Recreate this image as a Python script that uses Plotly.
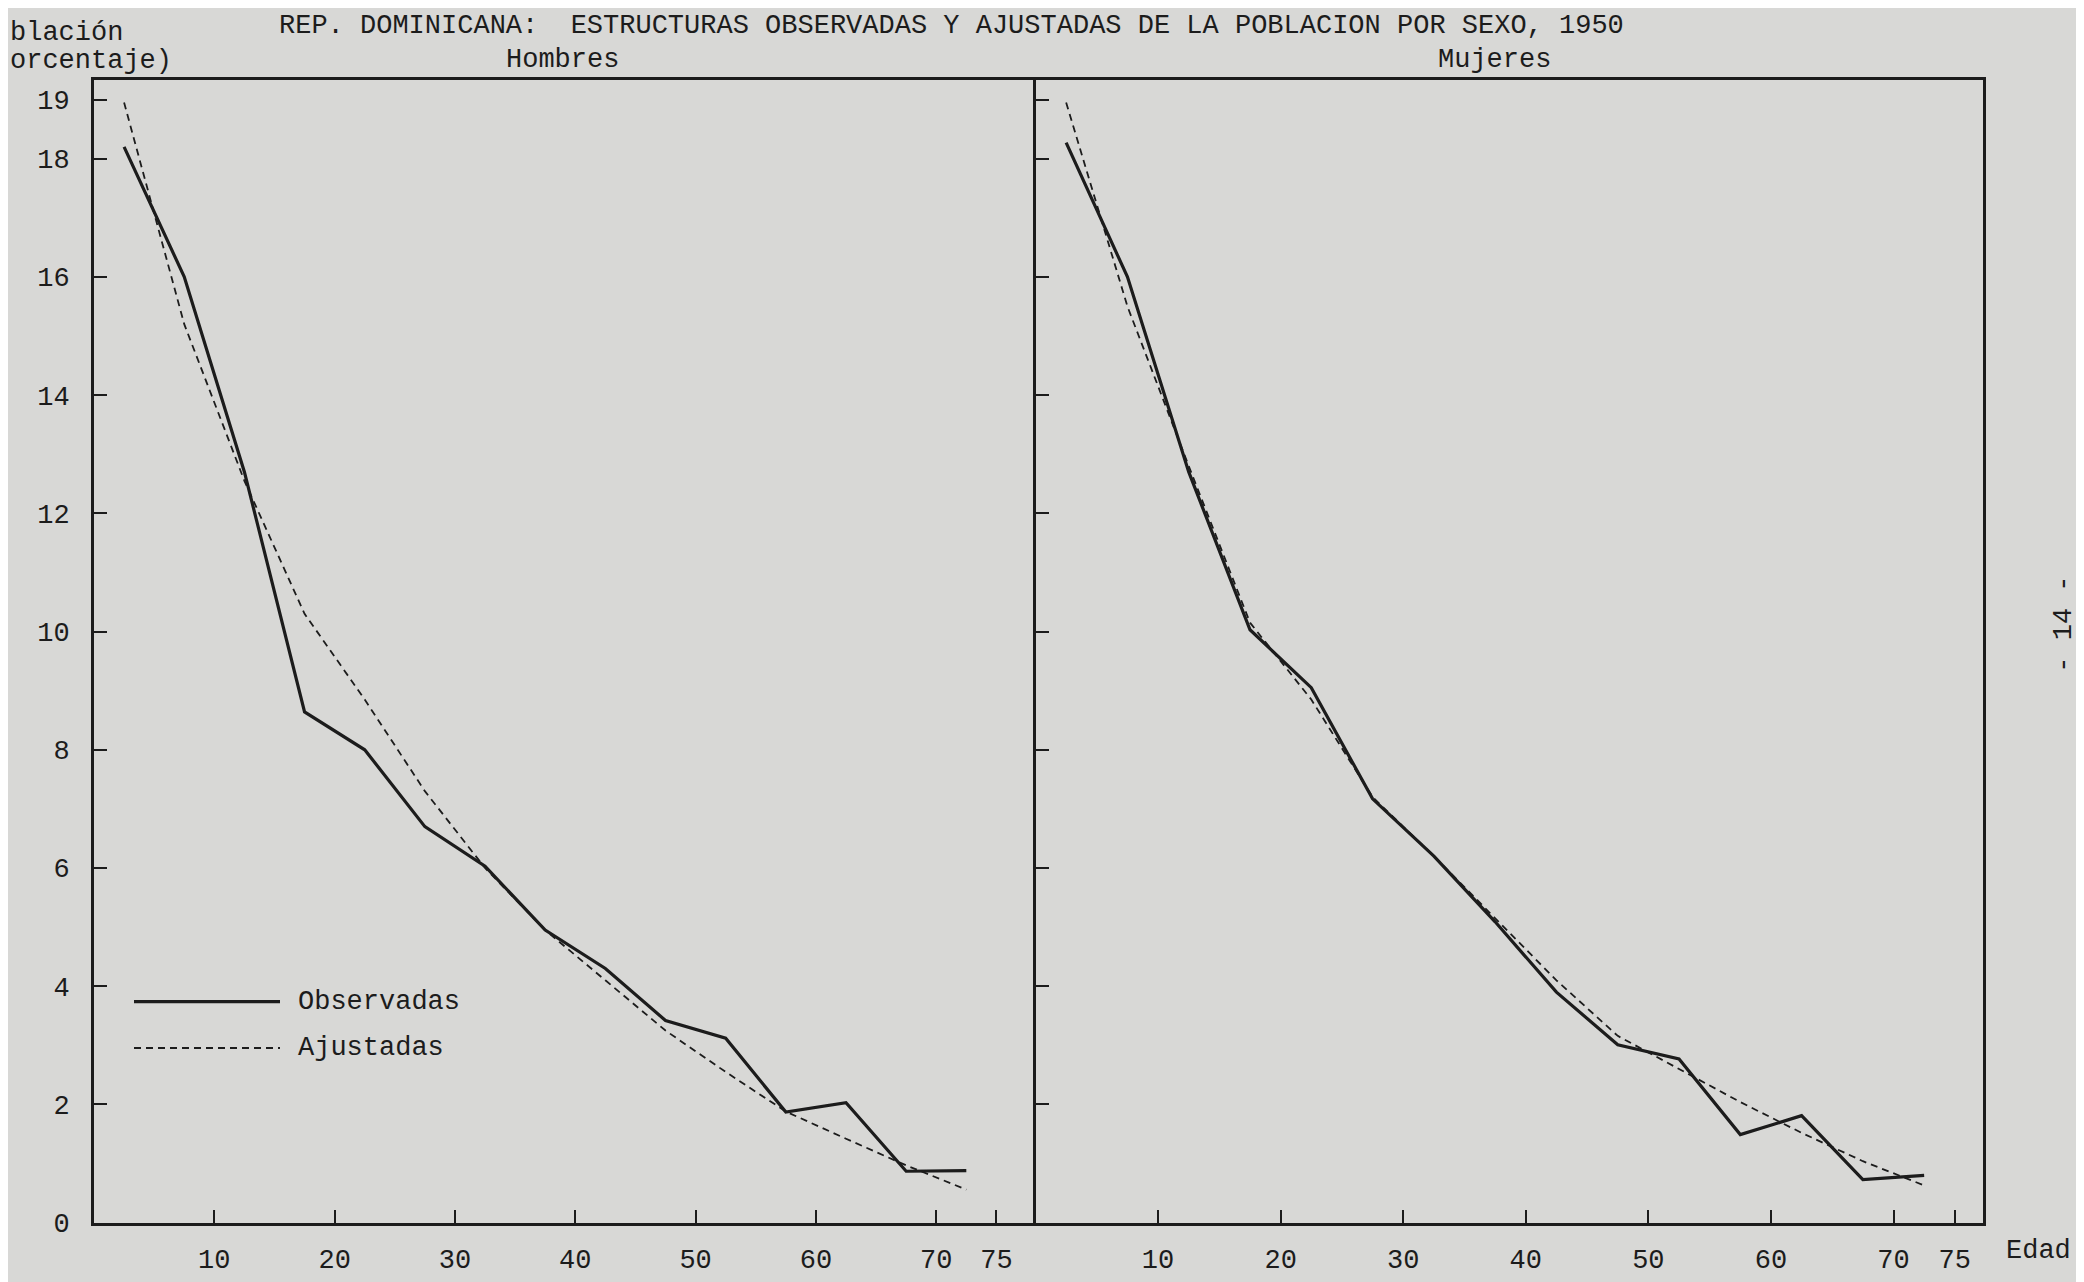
import plotly.graph_objects as go

# Age-group midpoints (years)
edad = [2.5, 7.5, 12.5, 17.5, 22.5, 27.5, 32.5, 37.5, 42.5, 47.5, 52.5, 57.5, 62.5, 67.5, 72.5]

# Hombres (percent of population)
hombres_obs = [18.2, 16.0, 12.7, 8.64, 8.0, 6.7, 6.03, 4.95, 4.3, 3.42, 3.12, 1.87, 2.03, 0.87, 0.88]
hombres_aju = [18.95, 15.2, 12.55, 10.3, 8.85, 7.3, 6.0, 4.95, 4.1, 3.25, 2.55, 1.88, 1.42, 0.97, 0.56]

# Mujeres (percent of population)
mujeres_obs = [18.27, 16.0, 12.7, 10.03, 9.05, 7.17, 6.2, 5.09, 3.9, 3.01, 2.77, 1.49, 1.81, 0.73, 0.8]
mujeres_aju = [18.95, 15.5, 12.8, 10.15, 8.85, 7.2, 6.2, 5.15, 4.1, 3.16, 2.6, 2.04, 1.52, 1.04, 0.63]

x_ticks = [10, 20, 30, 40, 50, 60, 70, 75]
y_ticks = [0, 2, 4, 6, 8, 10, 12, 14, 16, 18, 19]

W, H = 2084, 1282
FONT = "Liberation Mono"
INK = "#1c1c1c"
BG = "#d8d8d6"

def px(x):
    return x / W

def py(y):
    return 1 - y / H

fig = go.Figure()

solid = dict(color=INK, width=3.2)
dashed = dict(color=INK, width=1.8, dash="7px,5px")

fig.add_trace(go.Scatter(x=edad, y=hombres_obs, mode="lines", line=solid,
                         name="Observadas", xaxis="x", yaxis="y", showlegend=False))
fig.add_trace(go.Scatter(x=edad, y=hombres_aju, mode="lines", line=dashed,
                         name="Ajustadas", xaxis="x", yaxis="y", showlegend=False))
fig.add_trace(go.Scatter(x=edad, y=mujeres_obs, mode="lines", line=solid,
                         name="Observadas", xaxis="x2", yaxis="y2", showlegend=False))
fig.add_trace(go.Scatter(x=edad, y=mujeres_aju, mode="lines", line=dashed,
                         name="Ajustadas", xaxis="x2", yaxis="y2", showlegend=False))

LW = 3
left_dom = [px(86), px(1026 - LW / 2)]
right_dom = [px(1026 + LW / 2), px(1975)]
y_dom = [py(1231), py(73)]

axis_common = dict(showgrid=False, zeroline=False, showline=True, linecolor=INK,
                   linewidth=LW, mirror=True, ticks="inside", ticklen=13,
                   tickcolor=INK, tickwidth=2,
                   tickfont=dict(family=FONT, size=27, color=INK))

fig.update_layout(
    width=W, height=H,
    margin=dict(l=0, r=0, t=0, b=0),
    paper_bgcolor=BG, plot_bgcolor="rgba(0,0,0,0)",
    showlegend=False,
    xaxis=dict(domain=left_dom, range=[0, 78], tickvals=x_ticks,
               ticktext=[str(v) for v in x_ticks], anchor="y",
               ticklabelstandoff=10, **axis_common),
    yaxis=dict(domain=y_dom, range=[0, 19.33], tickvals=y_ticks,
               ticktext=[str(v) for v in y_ticks], anchor="x",
               ticklabelstandoff=16, **axis_common),
    xaxis2=dict(domain=right_dom, range=[0, 77.3], tickvals=x_ticks,
                ticktext=[str(v) for v in x_ticks], anchor="y2",
                ticklabelstandoff=10, **axis_common),
    yaxis2=dict(domain=y_dom, range=[0, 19.33], tickvals=y_ticks,
                showticklabels=False, anchor="x2", **axis_common),
)

ann_font = dict(family=FONT, size=27, color=INK)
annotations = [
    dict(text="REP. DOMINICANA:  ESTRUCTURAS OBSERVADAS Y AJUSTADAS DE LA POBLACION POR SEXO, 1950",
         x=px(943), y=1.0, xanchor="center", yanchor="top", yshift=-1, showarrow=False),
    dict(text="blación", x=0, y=py(25), xanchor="left", yanchor="middle", showarrow=False),
    dict(text="orcentaje)", x=0, y=py(54), xanchor="left", yanchor="middle", showarrow=False),
    dict(text="Hombres", x=px(554), y=py(53), xanchor="center", yanchor="middle", showarrow=False),
    dict(text="Mujeres", x=px(1486), y=py(53), xanchor="center", yanchor="middle", showarrow=False),
    dict(text="Edad", x=px(2030), y=py(1260), xanchor="center", yanchor="middle", showarrow=False),
    dict(text="Observadas", x=px(288), y=py(1007), xanchor="left", yanchor="middle", showarrow=False),
    dict(text="Ajustadas", x=px(288), y=py(1054), xanchor="left", yanchor="middle", showarrow=False),
    dict(text="- 14 -", x=px(2056), y=py(625), xanchor="center", yanchor="middle",
         textangle=-90, showarrow=False),
]
for a in annotations:
    a["xref"] = "paper"
    a["yref"] = "paper"
    a["font"] = ann_font
fig.update_layout(annotations=annotations)

# legend samples
fig.add_shape(type="line", xref="paper", yref="paper",
              x0=px(126), x1=px(272), y0=py(1007), y1=py(1007),
              line=dict(color=INK, width=3.2))
fig.add_shape(type="line", xref="paper", yref="paper",
              x0=px(126), x1=px(272), y0=py(1054), y1=py(1054),
              line=dict(color=INK, width=1.8, dash="7px,5px"))

fig.write_html("out.html")
